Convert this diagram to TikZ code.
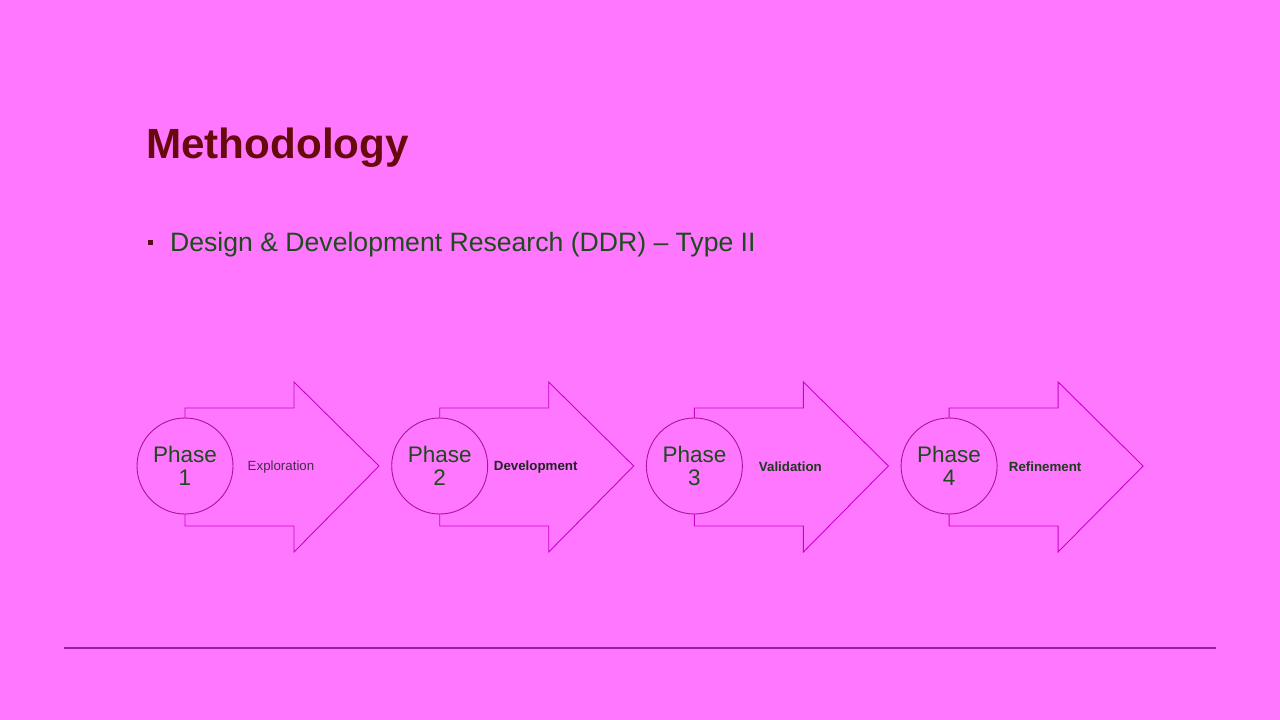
\documentclass[tikz,border=0pt]{standalone}
\usepackage{fontspec}
\setmainfont{Liberation Sans}
\definecolor{bg}{HTML}{FF77FF}
\definecolor{titlec}{HTML}{660A0E}
\definecolor{textc}{HTML}{1E4A1E}
\definecolor{arrowc}{HTML}{CC00CC}
\definecolor{circc}{HTML}{B0109E}
\definecolor{rulec}{HTML}{9A1FA0}
\definecolor{bulletc}{HTML}{5A0A1A}
\tikzset{
  phasearrow/.style={draw=arrowc, line width=0.9pt, fill=bg, line join=miter},
  phasecircle/.style={circle, draw=circc, line width=0.9pt, fill=bg, minimum size=96pt, inner sep=0pt,
    font=\fontsize{22.5}{23}\selectfont, text=textc, align=center},
  phaselabel/.style={font=\fontsize{13.3}{15}\selectfont, anchor=center}
}
\begin{document}
\begin{tikzpicture}[x=1pt,y=-1pt]
\fill[bg] (0,0) rectangle (1280,720);
\useasboundingbox (0,0) rectangle (1280,720);
\node[anchor=base west, inner sep=0pt, text=titlec, font=\fontsize{42.2}{48}\selectfont\bfseries] (title) at (146,158) {Methodology};
\fill[bulletc] (147.5,240) rectangle (152.5,245) coordinate (bul);
\node[anchor=base west, inner sep=0pt, text=textc, font=\fontsize{26.6}{30}\selectfont] (sub) at (170,251) {Design \& Development Research (DDR) -- Type II};
\foreach \i/\lab/\col/\ser in {1/Exploration/4A2A4A/\mdseries, 2/Development/222222/\bfseries, 3/Validation/1F3A1F/\bfseries, 4/Refinement/1F3A1F/\bfseries}{
  \pgfmathsetmacro{\cx}{185+254.7*(\i-1)}
  \draw[phasearrow] (\cx,408) -- (\cx+109,408) -- (\cx+109,382) -- (\cx+194,466) -- (\cx+109,552) -- (\cx+109,526) -- (\cx,526) -- cycle;
  \node[phasecircle] (c\i) at (\cx,466) {Phase\\\i};
  \definecolor{labc}{HTML}{\col}
  \node[phaselabel, text=labc, font=\fontsize{13.3}{15}\selectfont\ser] (l\i) at (\cx+96,467) {\lab};
}
\draw[rulec, line width=1.6pt] (64,648) coordinate (ra) -- (1216,648) coordinate (rb);
\end{tikzpicture}
\end{document}
